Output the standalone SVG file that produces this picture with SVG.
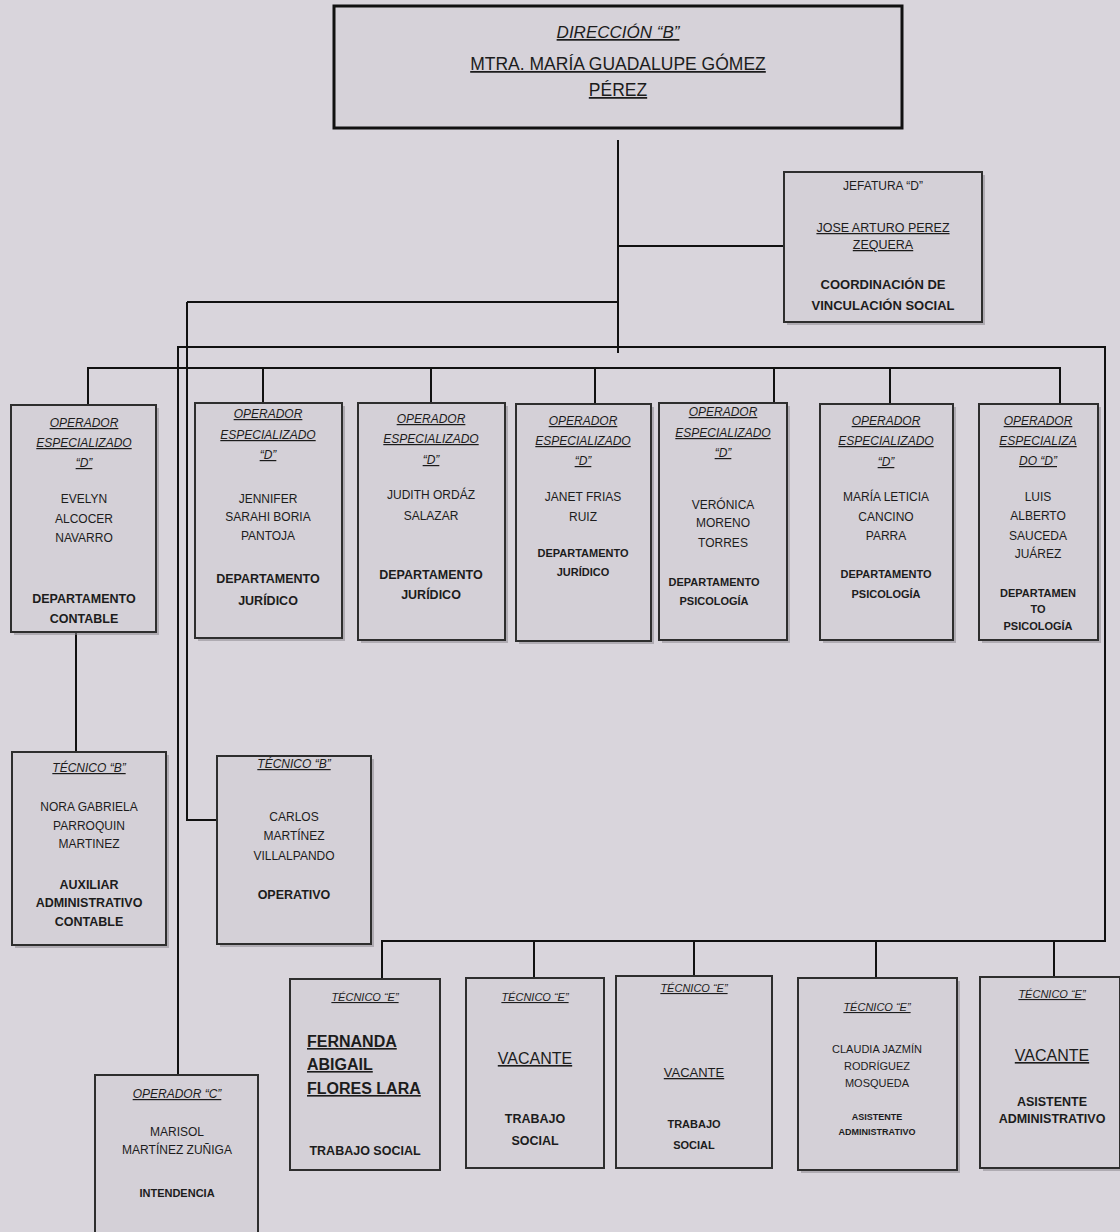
<svg xmlns="http://www.w3.org/2000/svg" width="1120" height="1232" viewBox="0 0 1120 1232">
<defs>
<style>
.bg{fill:#d9d5dc}
.bx{fill:#d4d0d7;stroke:#2e2e2e;stroke-width:2}
.sh{fill:#8d8990;opacity:.55}
.c{stroke:#111;stroke-width:2;fill:none}
text{font-family:"Liberation Sans",Arial,sans-serif;fill:#1c1c1c;text-anchor:middle}
.ti{font-style:italic;text-decoration:underline;font-size:12px}
.tis{font-style:italic;text-decoration:underline;font-size:11px}
.n{font-size:12px}
.b{font-weight:bold;font-size:12.5px}
.bs{font-weight:bold;font-size:11px}
.u{text-decoration:underline}
</style>
</defs>
<rect class="bg" x="0" y="0" width="1120" height="1232"/>

<g id="connectors">
<path class="c" d="M618,140 V353"/>
<path class="c" d="M618,246 H784"/>
<path class="c" d="M187,302 H618"/>
<path class="c" d="M187,302 V820 H217"/>
<path class="c" d="M178,1075 V347 H1105 V941 H382 V979"/>
<path class="c" d="M534,941 V978 M694,941 V976 M876,941 V978 M1054,941 V977"/>
<path class="c" d="M88,405 V368 H1060 V404"/>
<path class="c" d="M263,368 V403 M431,368 V403 M595,368 V404 M774,368 V403 M890,368 V404"/>
<path class="c" d="M76,632 V752"/>
</g>

<g id="direccion">
<rect x="334" y="6" width="568" height="122" fill="#d6d2d9" stroke="#111" stroke-width="3"/>
<text x="618" y="38" font-size="17" font-style="italic" class="u">DIRECCIÓN “B”</text>
<text x="618" y="70" font-size="17.5" class="u">MTRA. MARÍA GUADALUPE GÓMEZ</text>
<text x="618" y="96" font-size="17.5" class="u">PÉREZ</text>
</g>

<g id="jefatura">
<rect class="sh" x="787" y="175" width="198" height="150"/>
<rect class="bx" x="784" y="172" width="198" height="150"/>
<text x="883" y="190" font-size="12">JEFATURA “D”</text>
<text x="883" y="232" font-size="12.5" class="u">JOSE ARTURO PEREZ</text>
<text x="883" y="249" font-size="12.5" class="u">ZEQUERA</text>
<text x="883" y="289" font-size="13" font-weight="bold">COORDINACIÓN DE</text>
<text x="883" y="310" font-size="13" font-weight="bold">VINCULACIÓN SOCIAL</text>
</g>

<g id="evelyn">
<rect class="sh" x="14" y="408" width="145" height="227"/>
<rect class="bx" x="11" y="405" width="145" height="227"/>
<text class="ti" x="84" y="427">OPERADOR</text>
<text class="ti" x="84" y="447">ESPECIALIZADO</text>
<text class="ti" x="84" y="467">“D”</text>
<text class="n" x="84" y="503">EVELYN</text>
<text class="n" x="84" y="523">ALCOCER</text>
<text class="n" x="84" y="542">NAVARRO</text>
<text class="b" x="84" y="603">DEPARTAMENTO</text>
<text class="b" x="84" y="623">CONTABLE</text>
</g>

<g id="jennifer">
<rect class="sh" x="198" y="406" width="147" height="235"/>
<rect class="bx" x="195" y="403" width="147" height="235"/>
<text class="ti" x="268" y="418">OPERADOR</text>
<text class="ti" x="268" y="439">ESPECIALIZADO</text>
<text class="ti" x="268" y="459">“D”</text>
<text class="n" x="268" y="503">JENNIFER</text>
<text class="n" x="268" y="521">SARAHI BORIA</text>
<text class="n" x="268" y="540">PANTOJA</text>
<text class="b" x="268" y="583">DEPARTAMENTO</text>
<text class="b" x="268" y="605">JURÍDICO</text>
</g>

<g id="judith">
<rect class="sh" x="361" y="406" width="147" height="237"/>
<rect class="bx" x="358" y="403" width="147" height="237"/>
<text class="ti" x="431" y="423">OPERADOR</text>
<text class="ti" x="431" y="443">ESPECIALIZADO</text>
<text class="ti" x="431" y="464">“D”</text>
<text class="n" x="431" y="499">JUDITH ORDÁZ</text>
<text class="n" x="431" y="520">SALAZAR</text>
<text class="b" x="431" y="579">DEPARTAMENTO</text>
<text class="b" x="431" y="599">JURÍDICO</text>
</g>

<g id="janet">
<rect class="sh" x="519" y="407" width="135" height="237"/>
<rect class="bx" x="516" y="404" width="135" height="237"/>
<text class="ti" x="583" y="425">OPERADOR</text>
<text class="ti" x="583" y="445">ESPECIALIZADO</text>
<text class="ti" x="583" y="465">“D”</text>
<text class="n" x="583" y="501">JANET FRIAS</text>
<text class="n" x="583" y="521">RUIZ</text>
<text class="bs" x="583" y="557">DEPARTAMENTO</text>
<text class="bs" x="583" y="576">JURÍDICO</text>
</g>

<g id="veronica">
<rect class="sh" x="662" y="406" width="128" height="237"/>
<rect class="bx" x="659" y="403" width="128" height="237"/>
<text class="ti" x="723" y="416">OPERADOR</text>
<text class="ti" x="723" y="437">ESPECIALIZADO</text>
<text class="ti" x="723" y="457">“D”</text>
<text class="n" x="723" y="509">VERÓNICA</text>
<text class="n" x="723" y="527">MORENO</text>
<text class="n" x="723" y="547">TORRES</text>
<text class="bs" x="714" y="586">DEPARTAMENTO</text>
<text class="bs" x="714" y="605">PSICOLOGÍA</text>
</g>

<g id="maria-leticia">
<rect class="sh" x="823" y="407" width="133" height="236"/>
<rect class="bx" x="820" y="404" width="133" height="236"/>
<text class="ti" x="886" y="425">OPERADOR</text>
<text class="ti" x="886" y="445">ESPECIALIZADO</text>
<text class="ti" x="886" y="466">“D”</text>
<text class="n" x="886" y="501">MARÍA LETICIA</text>
<text class="n" x="886" y="521">CANCINO</text>
<text class="n" x="886" y="540">PARRA</text>
<text class="bs" x="886" y="578">DEPARTAMENTO</text>
<text class="bs" x="886" y="598">PSICOLOGÍA</text>
</g>

<g id="luis">
<rect class="sh" x="982" y="407" width="119" height="236"/>
<rect class="bx" x="979" y="404" width="119" height="236"/>
<text class="ti" x="1038" y="425">OPERADOR</text>
<text class="ti" x="1038" y="445">ESPECIALIZA</text>
<text class="ti" x="1038" y="465">DO “D”</text>
<text class="n" x="1038" y="501">LUIS</text>
<text class="n" x="1038" y="520">ALBERTO</text>
<text class="n" x="1038" y="540">SAUCEDA</text>
<text class="n" x="1038" y="558">JUÁREZ</text>
<text class="bs" x="1038" y="597">DEPARTAMEN</text>
<text class="bs" x="1038" y="613">TO</text>
<text class="bs" x="1038" y="630">PSICOLOGÍA</text>
</g>

<g id="nora">
<rect class="sh" x="15" y="755" width="154" height="193"/>
<rect class="bx" x="12" y="752" width="154" height="193"/>
<text class="ti" x="89" y="772">TÉCNICO “B”</text>
<text class="n" x="89" y="811">NORA GABRIELA</text>
<text class="n" x="89" y="830">PARROQUIN</text>
<text class="n" x="89" y="848">MARTINEZ</text>
<text class="b" x="89" y="889">AUXILIAR</text>
<text class="b" x="89" y="907">ADMINISTRATIVO</text>
<text class="b" x="89" y="926">CONTABLE</text>
</g>

<g id="carlos">
<rect class="sh" x="220" y="759" width="154" height="188"/>
<rect class="bx" x="217" y="756" width="154" height="188"/>
<text class="ti" x="294" y="768">TÉCNICO “B”</text>
<text class="n" x="294" y="821">CARLOS</text>
<text class="n" x="294" y="840">MARTÍNEZ</text>
<text class="n" x="294" y="860">VILLALPANDO</text>
<text class="b" x="294" y="899">OPERATIVO</text>
</g>

<g id="fernanda">
<rect class="bx" x="290" y="979" width="150" height="191"/>
<text class="tis" x="365" y="1001">TÉCNICO “E”</text>
<text x="307" y="1047" font-size="16" font-weight="bold" class="u" style="text-anchor:start">FERNANDA</text>
<text x="307" y="1070" font-size="16" font-weight="bold" class="u" style="text-anchor:start">ABIGAIL</text>
<text x="307" y="1094" font-size="16" font-weight="bold" class="u" style="text-anchor:start">FLORES LARA</text>
<text class="b" x="365" y="1155">TRABAJO SOCIAL</text>
</g>

<g id="vacante-1">
<rect class="bx" x="466" y="978" width="138" height="190"/>
<text class="tis" x="535" y="1001">TÉCNICO “E”</text>
<text x="535" y="1064" font-size="16" class="u">VACANTE</text>
<text class="b" x="535" y="1123">TRABAJO</text>
<text class="b" x="535" y="1145">SOCIAL</text>
</g>

<g id="vacante-2">
<rect class="bx" x="616" y="976" width="156" height="192"/>
<text class="tis" x="694" y="992">TÉCNICO “E”</text>
<text x="694" y="1077" font-size="13" class="u">VACANTE</text>
<text class="bs" x="694" y="1128">TRABAJO</text>
<text class="bs" x="694" y="1149">SOCIAL</text>
</g>

<g id="claudia">
<rect class="sh" x="801" y="981" width="159" height="192"/>
<rect class="bx" x="798" y="978" width="159" height="192"/>
<text class="tis" x="877" y="1011">TÉCNICO “E”</text>
<text x="877" y="1053" font-size="11">CLAUDIA JAZMÍN</text>
<text x="877" y="1070" font-size="11">RODRÍGUEZ</text>
<text x="877" y="1087" font-size="11">MOSQUEDA</text>
<text x="877" y="1120" font-size="9" font-weight="bold">ASISTENTE</text>
<text x="877" y="1135" font-size="9" font-weight="bold">ADMINISTRATIVO</text>
</g>

<g id="vacante-3">
<rect class="sh" x="983" y="980" width="140" height="191"/>
<rect class="bx" x="980" y="977" width="140" height="191"/>
<text class="tis" x="1052" y="998">TÉCNICO “E”</text>
<text x="1052" y="1061" font-size="16" class="u">VACANTE</text>
<text class="b" x="1052" y="1106">ASISTENTE</text>
<text class="b" x="1052" y="1123">ADMINISTRATIVO</text>
</g>

<g id="marisol">
<rect class="bx" x="95" y="1075" width="163" height="170"/>
<text class="ti" x="177" y="1098">OPERADOR “C”</text>
<text class="n" x="177" y="1136">MARISOL</text>
<text class="n" x="177" y="1154">MARTÍNEZ ZUÑIGA</text>
<text class="bs" x="177" y="1197">INTENDENCIA</text>
</g>
</svg>
